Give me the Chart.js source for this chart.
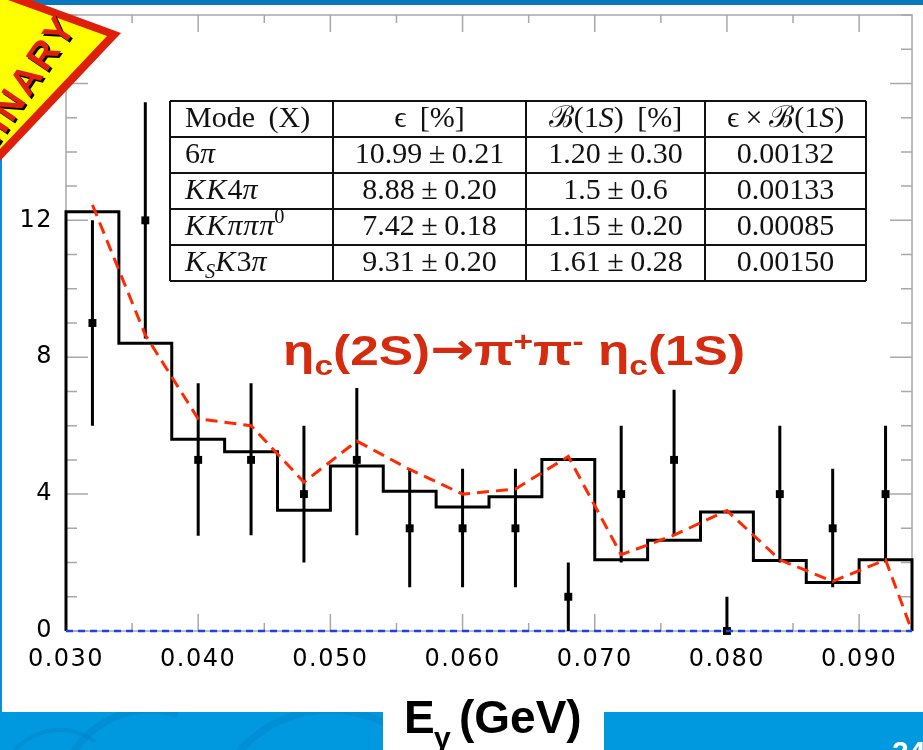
<!DOCTYPE html>
<html>
<head>
<meta charset="utf-8">
<script src="https://cdn.jsdelivr.net/npm/chart.js@4.4.0/dist/chart.umd.min.js"></script>
<style>
  html, body { margin: 0; padding: 0; background: #ffffff; }
  canvas { display: block; }
</style>
</head>
<body>
<canvas id="plot" width="923" height="750"></canvas>
<script>
// Photon energy bins (bin centres, GeV) and bin width
const binCenters = [0.032, 0.036, 0.040, 0.044, 0.048, 0.052, 0.056, 0.060,
                    0.064, 0.068, 0.072, 0.076, 0.080, 0.084, 0.088, 0.092];
const binWidth = 0.004;

// Simulated signal shape (solid histogram)
const mcHeights = [12.25, 8.41, 5.60, 5.24, 3.53, 4.82, 4.08, 3.62,
                   3.92, 5.01, 2.08, 2.65, 3.48, 2.06, 1.42, 2.08];

// Observed events per bin with their error bars
const dataCounts = [9, 12, 5, 5, 4, 5, 3, 3, 3, 1, 4, 5, 0, 4, 3, 4];
const errLow  = [6.0, 8.55, 2.78, 2.8, 2.0, 2.8, 1.28, 1.28, 1.28, 0.0, 2.0, 2.8, 0.0, 2.0, 1.28, 2.0];
const errHigh = [12.0, 15.45, 7.24, 7.24, 6.0, 7.1, 4.74, 4.74, 4.74, 2.0, 6.0, 7.05, 1.0, 6.0, 4.74, 6.0];

// Fit curve (red dashed)
const fitX = [0.032, 0.036, 0.040, 0.044, 0.048, 0.052, 0.056, 0.060,
              0.064, 0.068, 0.072, 0.076, 0.080, 0.084, 0.088, 0.092, 0.094];
const fitY = [12.45, 8.65, 6.2, 6.0, 4.35, 5.55, 4.72, 4.0,
              4.15, 5.1, 2.23, 2.8, 3.52, 2.08, 1.45, 2.08, 0.0];

// Axis ticks
const xTickValues = [0.030, 0.040, 0.050, 0.060, 0.070, 0.080, 0.090];
const yTickValues = [0, 4, 8, 12];
const xRange = [0.030, 0.094];
const yRange = [0, 18];

// Efficiency / branching-fraction table
const tableHeader = ['Mode (X)', 'ϵ [%]', 'ℬ(1S) [%]', 'ϵ × ℬ(1S)'];
const tableModes = ['6π', 'KK4π', 'KKπππ0', 'KSK3π'];
const tableEff = ['10.99 ± 0.21', '8.88 ± 0.20', '7.42 ± 0.18', '9.31 ± 0.20'];
const tableBF = ['1.20 ± 0.30', '1.5 ± 0.6', '1.15 ± 0.20', '1.61 ± 0.28'];
const tableProd = ['0.00132', '0.00133', '0.00085', '0.00150'];

// ---- datasets built from the arrays above ----
const histPoints = [{ x: binCenters[0] - binWidth / 2, y: 0 }];
binCenters.forEach((c, i) => {
  histPoints.push({ x: c - binWidth / 2, y: mcHeights[i] });
  histPoints.push({ x: c + binWidth / 2, y: mcHeights[i] });
});
histPoints.push({ x: binCenters[binCenters.length - 1] + binWidth / 2, y: 0 });

const errPoints = [];
binCenters.forEach((c, i) => {
  errPoints.push({ x: c, y: errLow[i] });
  errPoints.push({ x: c, y: errHigh[i] });
  errPoints.push({ x: c, y: null });
});

const dataPoints = binCenters.map((c, i) => ({ x: c, y: dataCounts[i] }));
const fitPoints = fitX.map((x, i) => ({ x: x, y: fitY[i] }));
const baseline = [{ x: xRange[0], y: 0 }, { x: xRange[1], y: 0 }];

// ---- page decoration ----
const pageBackground = {
  id: 'pageBackground',
  beforeDraw(chart) {
    const ctx = chart.ctx;
    ctx.save();
    ctx.fillStyle = '#ffffff';
    ctx.fillRect(0, 0, 923, 750);
    ctx.fillStyle = '#0a78bd';
    ctx.fillRect(0, 0, 923, 5);
    ctx.fillStyle = '#0a8fd6';
    ctx.fillRect(0, 0, 2, 712);
    ctx.fillStyle = '#0098de';
    ctx.fillRect(0, 712, 383, 38);
    ctx.fillRect(604, 712, 319, 38);
    // faint swirls inside the footer band
    ctx.beginPath();
    ctx.rect(0, 712, 383, 38);
    ctx.rect(604, 712, 319, 38);
    ctx.clip();
    ctx.strokeStyle = 'rgba(0,105,175,0.2)';
    ctx.lineWidth = 7;
    ctx.beginPath(); ctx.arc(330, 830, 120, Math.PI * 1.0, Math.PI * 1.7); ctx.stroke();
    ctx.beginPath(); ctx.arc(150, 800, 90, Math.PI * 1.05, Math.PI * 1.6); ctx.stroke();
    ctx.lineWidth = 4;
    ctx.beginPath(); ctx.arc(60, 790, 60, Math.PI * 1.1, Math.PI * 1.7); ctx.stroke();
    ctx.restore();
    ctx.letterSpacing = '1.5px';
  },
  beforeDatasetsDraw(chart) {
    chart.ctx.letterSpacing = '0px';
  }
};

// frame and inward tick marks along all four sides
const frameTicks = {
  id: 'frameTicks',
  beforeDatasetsDraw(chart) {
    const { ctx, chartArea: a, scales } = chart;
    const xs = scales.x, ys = scales.y;
    ctx.save();
    ctx.strokeStyle = '#a8a8a8';
    ctx.lineWidth = 1.5;
    ctx.strokeRect(a.left, a.top, a.right - a.left, a.bottom - a.top);
    ctx.beginPath();
    for (let k = 0; k <= 18; k++) {
      const py = ys.getPixelForValue(k);
      const len = (k % 4 === 0) ? 22 : 11;
      ctx.moveTo(a.left, py); ctx.lineTo(a.left + len, py);
      ctx.moveTo(a.right, py); ctx.lineTo(a.right - len, py);
    }
    for (let k = 0; k <= 12; k++) {
      const v = xRange[0] + 0.005 * k;
      const px = xs.getPixelForValue(v);
      const len = (k % 2 === 0) ? 17 : 8;
      ctx.moveTo(px, a.bottom); ctx.lineTo(px, a.bottom - len);
      ctx.moveTo(px, a.top); ctx.lineTo(px, a.top + len);
    }
    ctx.stroke();
    ctx.restore();
  }
};

// a run of text pieces: [text, italic, shift] with shift 'sub' / 'sup' / '' ; 'gap' adds math spacing
function pieceFont(p, size, family) {
  const s = p[2] ? size * 0.68 : size;
  return (p[1] ? 'italic ' : '') + s + 'px ' + family;
}
function richWidth(ctx, pieces, size, family) {
  let w = 0;
  pieces.forEach(p => {
    if (p[0] === 'gap') { w += size * p[1]; return; }
    ctx.font = pieceFont(p, size, family);
    w += ctx.measureText(p[0]).width;
  });
  return w;
}
function drawRich(ctx, pieces, x, y, size, family) {
  let cx = x;
  pieces.forEach(p => {
    if (p[0] === 'gap') { cx += size * p[1]; return; }
    ctx.font = pieceFont(p, size, family);
    const dy = p[2] === 'sub' ? size * 0.22 : (p[2] === 'sup' ? -size * 0.4 : 0);
    ctx.fillText(p[0], cx, y + dy);
    cx += ctx.measureText(p[0]).width;
  });
}

function toPieces(str) {
  const map = {
    'Mode (X)': [['Mode', false], ['gap', 0.45], ['(X)', false]],
    '6π': [['6', false], ['π', true]],
    'KK4π': [['K', true], ['gap', 0.04], ['K', true], ['gap', 0.04], ['4', false], ['π', true]],
    'KKπππ0': [['K', true], ['gap', 0.04], ['K', true], ['gap', 0.04], ['π', true], ['gap', 0.03], ['π', true],
               ['gap', 0.03], ['π', true], ['0', false, 'sup']],
    'KSK3π': [['K', true], ['S', true, 'sub'], ['K', true], ['gap', 0.04], ['3', false], ['π', true]],
    'ϵ [%]': [['ϵ', false], ['gap', 0.45], ['[%]', false]],
    'ℬ(1S) [%]': [['ℬ', false], ['(1', false], ['S', true], [')', false], ['gap', 0.45], ['[%]', false]],
    'ϵ × ℬ(1S)': [['ϵ', false], ['gap', 0.22], ['×', false], ['gap', 0.22], ['ℬ', false], ['(1', false],
                  ['S', true], [')', false]]
  };
  if (map[str]) return map[str];
  if (str.indexOf(' ± ') >= 0) {
    const parts = str.split(' ± ');
    return [[parts[0], false], ['gap', 0.22], ['±', false], ['gap', 0.22], [parts[1], false]];
  }
  return [[str, false]];
}

const tablePlugin = {
  id: 'tablePlugin',
  afterDatasetsDraw(chart) {
    const ctx = chart.ctx;
    const colX = [170, 333, 526, 705, 866];
    const rowY = [101, 137, 173, 209, 245, 281];
    const fam = '"Liberation Serif", "DejaVu Serif", serif';
    ctx.save();
    ctx.fillStyle = '#ffffff';
    ctx.fillRect(colX[0], rowY[0], colX[4] - colX[0], rowY[5] - rowY[0]);
    ctx.strokeStyle = '#111111';
    ctx.lineWidth = 2;
    ctx.beginPath();
    rowY.forEach(y => { ctx.moveTo(colX[0], y); ctx.lineTo(colX[4], y); });
    colX.forEach(x => { ctx.moveTo(x, rowY[0]); ctx.lineTo(x, rowY[5]); });
    ctx.stroke();

    ctx.fillStyle = '#111111';
    ctx.textBaseline = 'alphabetic';
    ctx.textAlign = 'left';
    const size = 30;
    const rows = [tableHeader].concat(tableModes.map((m, i) => [m, tableEff[i], tableBF[i], tableProd[i]]));
    rows.forEach((row, r) => {
      const base = rowY[r] + 26;
      row.forEach((txt, c) => {
        const pieces = toPieces(txt);
        const w = richWidth(ctx, pieces, size, fam);
        const x = (c === 0) ? colX[0] + 15 : (colX[c] + colX[c + 1]) / 2 - w / 2;
        drawRich(ctx, pieces, x, base, size, fam);
      });
    });
    ctx.restore();

    // decay label
    ctx.save();
    ctx.fillStyle = '#d52b0e';
    ctx.textBaseline = 'alphabetic';
    const tfam = '"Liberation Sans", Arial, sans-serif';
    const title = [['η', 0], ['c', 'sub'], ['(2S)', 0], ['→', 'arrow'], ['π', 0], ['+', 'sup'], ['π', 0], ['-', 'sup'],
                   [' η', 0], ['c', 'sub'], ['(1S)', 0]];
    const fontFor = p => p[1] === 'arrow' ? 'bold 44px "DejaVu Sans", sans-serif'
                       : 'bold ' + ((p[1] === 'sub' || p[1] === 'sup') ? 28 : 43) + 'px ' + tfam;
    let tw = 0;
    title.forEach(p => { ctx.font = fontFor(p); tw += ctx.measureText(p[0]).width; });
    const sx = 462 / tw;
    ctx.translate(283, 365);
    ctx.scale(sx, 1);
    let cx = 0;
    title.forEach(p => {
      ctx.font = fontFor(p);
      const dy = p[1] === 'sub' ? 10 : (p[1] === 'sup' ? -14 : (p[1] === 'arrow' ? -1 : 0));
      ctx.fillText(p[0], cx, dy);
      cx += ctx.measureText(p[0]).width;
    });
    ctx.restore();
  },
  afterDraw(chart) {
    const ctx = chart.ctx;
    // axis title
    ctx.save();
    ctx.fillStyle = '#000000';
    ctx.textBaseline = 'alphabetic';
    ctx.font = 'bold 46px "Liberation Sans", Arial, sans-serif';
    ctx.fillText('E', 404, 733);
    ctx.font = 'bold 30px "Liberation Sans", Arial, sans-serif';
    ctx.fillText('γ', 434, 748);
    ctx.font = 'bold 46px "Liberation Sans", Arial, sans-serif';
    ctx.fillText('(GeV)', 459, 733);
    // slide number
    ctx.fillStyle = '#ffffff';
    ctx.font = 'bold 30px "Liberation Sans", Arial, sans-serif';
    ctx.fillText('24', 892, 762);
    ctx.restore();

    // preliminary stamp in the corner
    ctx.save();
    ctx.beginPath();
    ctx.moveTo(0, 0); ctx.lineTo(31, 0); ctx.lineTo(121, 33); ctx.lineTo(0, 161); ctx.closePath();
    ctx.fillStyle = '#de1f0a';
    ctx.fill();
    ctx.beginPath();
    ctx.moveTo(0, 0); ctx.lineTo(8, 0); ctx.lineTo(107, 36); ctx.lineTo(0, 149); ctx.closePath();
    ctx.fillStyle = '#ffff00';
    ctx.fill();
    ctx.font = 'bold 38px "Liberation Sans", Arial, sans-serif';
    ctx.textAlign = 'right';
    ctx.textBaseline = 'alphabetic';
    ctx.letterSpacing = '3px';
    const ang = -56 * Math.PI / 180;
    ctx.save();
    ctx.translate(80, 27.5);
    ctx.rotate(ang);
    ctx.fillStyle = '#000000';
    ctx.fillText('PRELIMINARY', 0, 0);
    ctx.restore();
    ctx.translate(78, 25.5);
    ctx.rotate(ang);
    ctx.fillStyle = '#e0200c';
    ctx.fillText('PRELIMINARY', 0, 0);
    ctx.restore();
  }
};

new Chart(document.getElementById('plot').getContext('2d'), {
  type: 'line',
  data: {
    datasets: [
      { label: 'baseline', data: baseline, borderColor: '#1f3fe0', borderWidth: 2.5,
        borderDash: [7, 5], pointRadius: 0, clip: false, order: 0 },
      { label: 'fit', data: fitPoints, borderColor: '#ff2a00', borderWidth: 3,
        borderDash: [12, 7], pointRadius: 0, tension: 0, clip: false, order: 1 },
      { label: 'data', data: dataPoints, showLine: false, pointStyle: 'rect', pointRadius: 5.6,
        pointBackgroundColor: '#000000', pointBorderColor: '#000000', pointBorderWidth: 0, clip: false, order: 2 },
      { label: 'errors', data: errPoints, borderColor: '#000000', borderWidth: 3,
        pointRadius: 0, spanGaps: false, clip: false, order: 3 },
      { label: 'signal MC', data: histPoints, borderColor: '#000000', borderWidth: 3,
        pointRadius: 0, tension: 0, clip: false, order: 4, borderJoinStyle: 'miter' }
    ]
  },
  options: {
    responsive: false,
    animation: false,
    devicePixelRatio: 1,
    layout: { padding: { top: 15, right: 11, left: 0, bottom: 0 } },
    plugins: { legend: { display: false }, tooltip: { enabled: false }, title: { display: false } },
    scales: {
      x: {
        type: 'linear', min: xRange[0], max: xRange[1],
        grid: { display: false, drawTicks: false }, border: { display: false },
        afterBuildTicks: s => { s.ticks = xTickValues.map(v => ({ value: v })); },
        afterFit: s => { s.height = 119; s.paddingLeft = 0; s.paddingRight = 0; },
        ticks: { color: '#000000', font: { family: '"DejaVu Sans"', size: 24 }, padding: 14,
                 maxRotation: 0, autoSkip: false, callback: v => v.toFixed(3) }
      },
      y: {
        type: 'linear', min: yRange[0], max: yRange[1],
        grid: { display: false, drawTicks: false }, border: { display: false },
        afterBuildTicks: s => { s.ticks = yTickValues.map(v => ({ value: v })); },
        afterFit: s => { s.width = 66; s.paddingTop = 0; s.paddingBottom = 0; },
        ticks: { color: '#000000', font: { family: '"DejaVu Sans"', size: 24 }, padding: 13,
                 callback: v => String(v) }
      }
    }
  },
  plugins: [pageBackground, frameTicks, tablePlugin]
});
</script>
</body>
</html>
